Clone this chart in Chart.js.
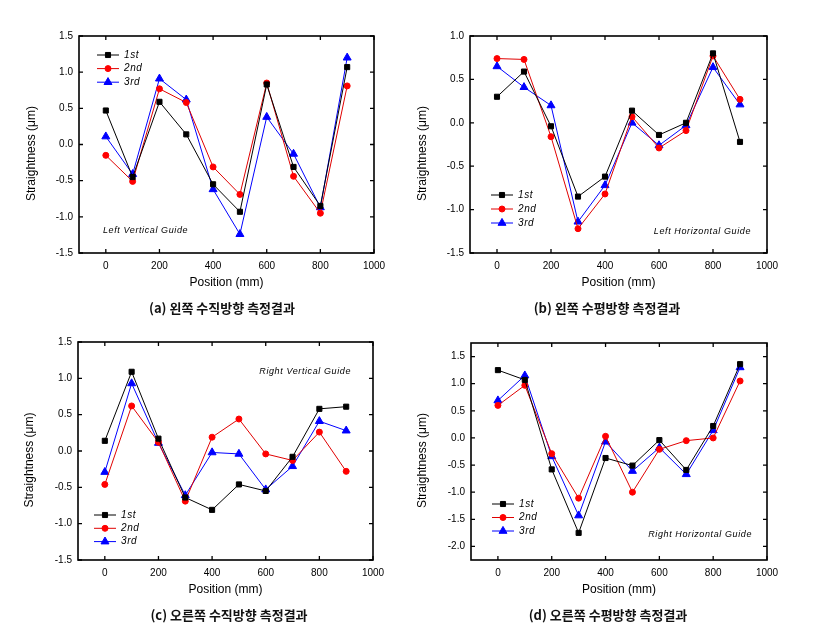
<!DOCTYPE html>
<html><head><meta charset="utf-8">
<script src="https://cdn.jsdelivr.net/npm/chart.js@4.4.0/dist/chart.umd.min.js"></script>
<style>
html,body{margin:0;padding:0;background:#fff}
body{width:828px;height:626px;position:relative;overflow:hidden}
canvas{position:absolute}
.cap{position:absolute;font-family:"Noto Sans CJK KR",sans-serif;font-weight:bold;font-size:13px;transform:translate(-50%,-50%);white-space:nowrap;color:#111;line-height:1}
</style></head><body>
<canvas id="ca" width="414" height="300" style="left:0px;top:0px"></canvas>
<canvas id="cb" width="400" height="300" style="left:400px;top:0px"></canvas>
<canvas id="cc" width="414" height="287" style="left:0px;top:320px"></canvas>
<canvas id="cd" width="400" height="287" style="left:400px;top:320px"></canvas>
<div class="cap" style="left:222px;top:307px">(a) 왼쪽 수직방향 측정결과</div>
<div class="cap" style="left:607px;top:307px">(b) 왼쪽 수평방향 측정결과</div>
<div class="cap" style="left:229px;top:614px">(c) 오른쪽 수직방향 측정결과</div>
<div class="cap" style="left:608px;top:614px">(d) 오른쪽 수평방향 측정결과</div>
<script>
// ---- data ----
const positions = [0, 100, 200, 300, 400, 500, 600, 700, 800, 900];
const seriesNames = ['1st', '2nd', '3rd'];

const a1st = [0.47, -0.45, 0.59, 0.14, -0.55, -0.93, 0.83, -0.31, -0.85, 1.07];
const a2nd = [-0.15, -0.51, 0.77, 0.58, -0.31, -0.69, 0.85, -0.44, -0.95, 0.81];
const a3rd = [0.11, -0.41, 0.91, 0.62, -0.62, -1.24, 0.38, -0.13, -0.87, 1.20];

const b1st = [0.30, 0.59, -0.04, -0.85, -0.62, 0.14, -0.14, 0.00, 0.80, -0.22];
const b2nd = [0.74, 0.73, -0.16, -1.22, -0.82, 0.07, -0.29, -0.09, 0.77, 0.27];
const b3rd = [0.65, 0.41, 0.20, -1.14, -0.72, 0.00, -0.26, -0.03, 0.64, 0.21];

const c1st = [0.14, 1.09, 0.17, -0.64, -0.81, -0.46, -0.55, -0.08, 0.58, 0.61];
const c2nd = [-0.46, 0.62, 0.12, -0.69, 0.19, 0.44, -0.04, -0.13, 0.26, -0.28];
const c3rd = [-0.29, 0.93, 0.11, -0.61, -0.02, -0.04, -0.53, -0.21, 0.41, 0.28];

const d1st = [1.25, 1.07, -0.58, -1.75, -0.37, -0.51, -0.04, -0.59, 0.22, 1.36];
const d2nd = [0.60, 0.97, -0.29, -1.11, 0.03, -1.00, -0.21, -0.05, 0.00, 1.05];
const d3rd = [0.69, 1.15, -0.34, -1.43, -0.07, -0.61, -0.18, -0.67, 0.14, 1.30];

const xTicks = [0, 200, 400, 600, 800, 1000];
const yTicksA = [-1.5, -1.0, -0.5, 0.0, 0.5, 1.0, 1.5];
const yTicksB = [-1.5, -1.0, -0.5, 0.0, 0.5, 1.0];
const yTicksC = [-1.5, -1.0, -0.5, 0.0, 0.5, 1.0, 1.5];
const yTicksD = [-2.0, -1.5, -1.0, -0.5, 0.0, 0.5, 1.0, 1.5];

const xTitle = 'Position (mm)';
const yTitle = 'Straightness (\u03bcm)';
const guideA = 'Left Vertical Guide';
const guideB = 'Left Horizontal Guide';
const guideC = 'Right Vertical Guide';
const guideD = 'Right Horizontal Guide';

// ---- styles ----
const seriesStyles = [
  {line: '#000000', fill: '#000000', shape: 'rect', r: 3.6},
  {line: '#e00000', fill: '#ff0000', shape: 'circle', r: 3},
  {line: '#0000ff', fill: '#0000ff', shape: 'triangle', r: 4.6}
];

Chart.defaults.font.family = "'Liberation Sans', Arial, sans-serif";
Chart.defaults.color = '#000';

const decorPlugin = {
  id: 'decor',
  afterDraw(chart, args, o) {
    const ctx = chart.ctx, ca = chart.chartArea, xs = chart.scales.x, ys = chart.scales.y;
    ctx.save();
    // frame
    ctx.strokeStyle = '#000'; ctx.lineWidth = 1.6;
    ctx.strokeRect(ca.left, ca.top, ca.right - ca.left, ca.bottom - ca.top);
    // inward ticks
    ctx.lineWidth = 1.3;
    ctx.beginPath();
    xs.ticks.forEach(t => {
      const px = xs.getPixelForValue(t.value);
      ctx.moveTo(px, ca.bottom); ctx.lineTo(px, ca.bottom - 4);
      ctx.moveTo(px, ca.top); ctx.lineTo(px, ca.top + 4);
    });
    ys.ticks.forEach(t => {
      const py = ys.getPixelForValue(t.value);
      ctx.moveTo(ca.left, py); ctx.lineTo(ca.left + 4, py);
      ctx.moveTo(ca.right, py); ctx.lineTo(ca.right - 4, py);
    });
    ctx.stroke();
    // y title
    ctx.save();
    ctx.translate(o.yTitleX, (ca.top + ca.bottom) / 2 + 9);
    ctx.rotate(-Math.PI / 2);
    ctx.font = "12px 'Liberation Sans', Arial, sans-serif";
    ctx.fillStyle = '#000'; ctx.textAlign = 'center'; ctx.textBaseline = 'middle';
    ctx.fillText(yTitle, 0, 0);
    ctx.restore();
    // legend
    chart.data.datasets.forEach((ds, i) => {
      const yy = o.legY + i * o.legStep;
      ctx.strokeStyle = ds.borderColor; ctx.lineWidth = 1;
      ctx.beginPath(); ctx.moveTo(o.legX, yy); ctx.lineTo(o.legX + o.legLen, yy); ctx.stroke();
      ctx.fillStyle = ds.pointBackgroundColor; ctx.strokeStyle = ds.pointBorderColor;
      Chart.helpers.drawPoint(ctx, {pointStyle: ds.pointStyle, radius: ds.pointRadius, rotation: 0, borderWidth: 1}, o.legX + o.legLen / 2, yy);
      ctx.fillStyle = '#000';
      ctx.font = "italic 10px 'Liberation Sans', Arial, sans-serif";
      ctx.textAlign = 'left'; ctx.textBaseline = 'middle';
      ctx.letterSpacing = '0.6px';
      ctx.fillText(ds.label, o.legX + o.legLen + 5, yy);
    });
    // guide label
    ctx.font = "italic 9px 'Liberation Sans', Arial, sans-serif";
    ctx.letterSpacing = '0.6px';
    ctx.fillStyle = '#000'; ctx.textBaseline = 'middle';
    ctx.textAlign = o.guideAlign;
    ctx.fillText(o.guide, o.guideX, o.guideY);
    ctx.restore();
  }
};

function makePanel(id, L, T, W, H, area, yMin, yMax, yTicks, s1, s2, s3, deco) {
  const vals = [s1, s2, s3];
  const datasets = vals.map((v, i) => ({
    label: seriesNames[i],
    data: positions.map((p, k) => ({x: p, y: v[k]})),
    borderColor: seriesStyles[i].line,
    backgroundColor: seriesStyles[i].fill,
    pointBackgroundColor: seriesStyles[i].fill,
    pointBorderColor: seriesStyles[i].fill,
    pointStyle: seriesStyles[i].shape,
    pointRadius: seriesStyles[i].r,
    pointBorderWidth: 1,
    borderWidth: 1,
    showLine: true,
    tension: 0
  }));
  const d = Object.assign({}, deco);
  d.legX -= L; d.legY -= T; d.guideX -= L; d.guideY -= T; d.yTitleX -= L;
  new Chart(document.getElementById(id), {
    type: 'line',
    data: {datasets},
    plugins: [decorPlugin],
    options: {
      responsive: false,
      animation: false,
      devicePixelRatio: 1,
      layout: {padding: {left: 0, top: area.t - T, right: L + W - area.r, bottom: 0}},
      plugins: {legend: {display: false}, tooltip: {enabled: false}, decor: d},
      scales: {
        x: {
          type: 'linear', min: -100, max: 1000,
          afterBuildTicks: s => { s.ticks = xTicks.map(v => ({value: v})); },
          afterFit: s => { s.height = T + H - area.b; },
          grid: {display: false, drawTicks: false},
          border: {display: false},
          ticks: {font: {size: 10}, padding: 7, maxRotation: 0, callback: v => String(v)},
          title: {display: true, text: xTitle, font: {size: 12}, padding: {top: 0, bottom: 10}}
        },
        y: {
          type: 'linear', min: yMin, max: yMax,
          afterBuildTicks: s => { s.ticks = yTicks.map(v => ({value: v})); },
          afterFit: s => { s.width = area.l - L; },
          grid: {display: false, drawTicks: false},
          border: {display: false},
          ticks: {font: {size: 10}, padding: 6, callback: v => Number(v).toFixed(1)}
        }
      }
    }
  });
}

makePanel('ca', 0, 0, 414, 300, {l: 79, t: 36, r: 374, b: 253}, -1.5, 1.5, yTicksA, a1st, a2nd, a3rd,
  {yTitleX: 32, legX: 97, legY: 55, legStep: 13.6, legLen: 22, guide: guideA, guideX: 103, guideY: 230, guideAlign: 'left'});
makePanel('cb', 400, 0, 400, 300, {l: 470, t: 36, r: 767, b: 253}, -1.5, 1.0, yTicksB, b1st, b2nd, b3rd,
  {yTitleX: 423, legX: 491, legY: 195, legStep: 14, legLen: 22, guide: guideB, guideX: 751, guideY: 231, guideAlign: 'right'});
makePanel('cc', 0, 320, 414, 287, {l: 78, t: 342, r: 373, b: 560}, -1.5, 1.5, yTicksC, c1st, c2nd, c3rd,
  {yTitleX: 30, legX: 94, legY: 515, legStep: 13.3, legLen: 22, guide: guideC, guideX: 351, guideY: 371, guideAlign: 'right'});
makePanel('cd', 400, 320, 400, 287, {l: 471, t: 343, r: 767, b: 560}, -2.25, 1.75, yTicksD, d1st, d2nd, d3rd,
  {yTitleX: 423, legX: 492, legY: 504, legStep: 13.5, legLen: 22, guide: guideD, guideX: 752, guideY: 534, guideAlign: 'right'});
</script>
</body></html>
